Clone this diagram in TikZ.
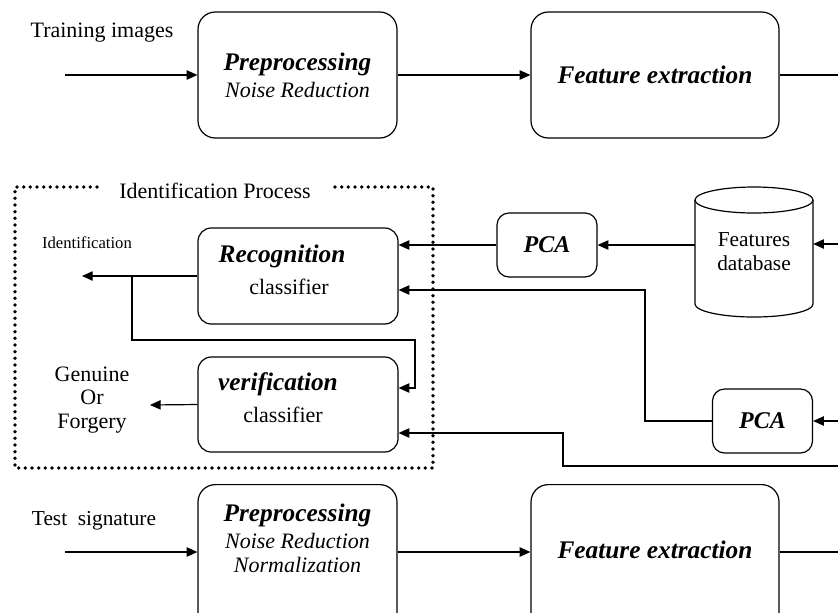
\documentclass[tikz,border=0pt]{standalone}
\usepackage{fontspec}
\setmainfont{Liberation Serif}
\usetikzlibrary{arrows.meta}
\newcommand\myBI{\fontsize{19}{23}\selectfont\bfseries\itshape}
\newcommand\myBIp{\fontsize{18}{21}\selectfont\bfseries\itshape}
\newcommand\myIT{\fontsize{16.5}{19}\selectfont\itshape}
\newcommand\myRM{\fontsize{16.5}{19}\selectfont}
\begin{document}
\begin{tikzpicture}[x=0.75pt,y=-0.75pt,
  box/.style={draw, line width=0.9pt, rounded corners=13pt, align=center, inner sep=0pt},
  cbox/.style={draw, line width=0.9pt, rounded corners=10pt, align=center, inner sep=0pt, minimum width=150pt, minimum height=72pt, font=\myRM},
  pbox/.style={draw, line width=0.9pt, rounded corners=9pt, align=center, inner sep=0pt, minimum width=75pt, minimum height=48pt},
  arr/.style={line width=0.9pt, -{Triangle[length=8pt,width=7pt]}},
  ln/.style={line width=0.9pt},
  dotframe/.style={line width=2.8pt, line cap=round, dash pattern=on 0pt off 5pt},
  lbl/.style={inner sep=0pt, align=center, font=\myRM}
]
\useasboundingbox (0,0) rectangle (838,612);
\clip (0,0) rectangle (838,612);

% ---------- top row ----------
\node[box, font=\myIT, minimum width=149.25pt, minimum height=94.5pt] (pre1) at (297.5,75)
  {{\myBI Preprocessing}\\[1pt]Noise Reduction};
\node[box, minimum width=186pt, minimum height=94.5pt] (fe1) at (655,75)
  {\myBI Feature extraction};
\node[lbl] (tr) at (102,33) {Training images};
\coordinate (tin) at (65,75);
\coordinate (tout) at (838,75);
\draw[arr] (tin) -- (pre1);
\draw[arr] (pre1) -- (fe1);
\draw[ln] (fe1) -- (tout);

% ---------- identification process ----------
\draw[dotframe] (97,187) -- (15,187) -- (15,468) -- (433,468) -- (433,187) -- (330,187);
\node[lbl] (ipl) at (215,191) {Identification Process};

\node[cbox] (rec) at (298,276) {};
\node[inner sep=0pt] (rect1) at (282,256) {\myBI Recognition};
\node[lbl] (rect2) at (289,287) {classifier};
\node[cbox, minimum height=71.25pt] (vf) at (298,404.5) {};
\node[inner sep=0pt] (vft1) at (278,384) {\myBI verification};
\node[lbl] (vft2) at (283,415) {classifier};

\node[inner sep=0pt] (idl) at (87,243) {\fontsize{12.5}{14}\selectfont Identification};
\node[lbl, font=\fontsize{16.5}{17.5}\selectfont] (gof) at (92,400) {Genuine\\Or\\Forgery};

\coordinate (idout) at (82,276);
\draw[arr] (rec.west) -- (idout);
\coordinate (b1) at (132,276);
\coordinate (b2) at (415,340);
\coordinate (b3) at (415,388);
\draw[arr] (b1) |- (b2) -- (b3) -- (b3 -| vf.east);
\coordinate (gout) at (150,405);
\draw[arr] (vf.west) -- (gout);

% ---------- PCA and database ----------
\node[pbox] (pca1) at (547,245) {\myBIp PCA};
\node[pbox] (pca2) at (762.5,421) {\myBIp PCA};

\node[minimum width=88.5pt, minimum height=97.5pt, inner sep=0pt, align=center,
      font=\fontsize{16}{18}\selectfont] (db) at (754,252) {Features\\database};
\draw[ln] (754,200) ellipse [x radius=44.25pt, y radius=9.75pt];
\draw[ln] (695,200) -- (695,304) arc[start angle=180, end angle=360, x radius=44.25pt, y radius=9.75pt] -- (813,200);

\coordinate (dbin) at (838,244);
\draw[arr] (dbin) -- (dbin -| db.east);
\draw[arr] (db.west |- pca1.east) -- (pca1.east);
\draw[arr] (pca1.west) -- (pca1.west -| rec.east);

\coordinate (j1) at (645,290);
\draw[arr] (pca2.west) -| (j1) -- (j1 -| rec.east);
\coordinate (p2in) at (838,421);
\draw[arr] (p2in) -- (pca2.east);
\coordinate (c2) at (838,466);
\coordinate (c3) at (563,433);
\draw[arr] (c2) -| (c3) -- (c3 -| vf.east);

% ---------- bottom row ----------
\node[box, anchor=north, minimum width=149.25pt, minimum height=120pt] (pre2) at (297.5,484) {};
\node[inner sep=0pt, align=center, font=\myIT] (pre2t) at (297.5,538)
  {{\myBI Preprocessing}\\[1pt]Noise Reduction\\[-1pt]Normalization};
\node[box, anchor=north, minimum width=186pt, minimum height=120pt] (fe2) at (655,484) {};
\node[inner sep=0pt] (fe2t) at (655,550) {\myBI Feature extraction};
\node[lbl, font=\fontsize{16}{18}\selectfont] (ts) at (94,521) {Test\ \ signature};
\coordinate (tin2) at (65,552);
\coordinate (tout2) at (838,552);
\draw[arr] (tin2) -- (tin2 -| pre2.west);
\draw[arr] (pre2.east |- tin2) -- (tin2 -| fe2.west);
\draw[ln] (fe2.east |- tin2) -- (tout2);
\end{tikzpicture}
\end{document}
